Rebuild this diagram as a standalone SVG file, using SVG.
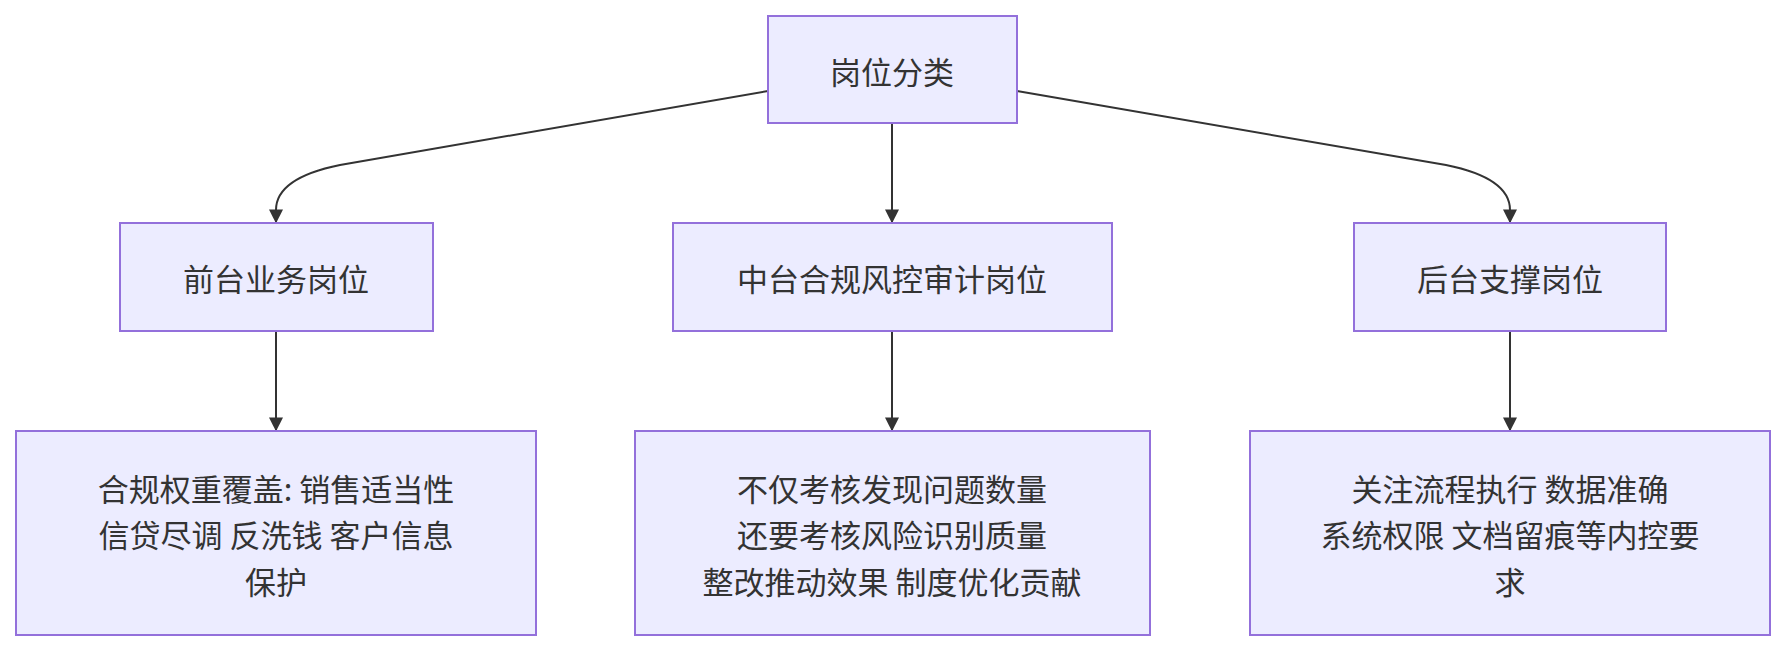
<svg xmlns="http://www.w3.org/2000/svg" width="1785" height="652" viewBox="0 0 1785 652">
<style>
.n{fill:#ECECFF;stroke:#9370DB;stroke-width:2}
.t{font-family:"Noto Sans CJK SC","Liberation Sans",sans-serif;font-size:31px;fill:#333;text-anchor:middle;dominant-baseline:central}
.e{fill:none;stroke:#333;stroke-width:2}
</style>
<defs><marker id="a" viewBox="0 0 10 10" refX="9" refY="5" markerWidth="7" markerHeight="7" orient="auto"><path d="M0,0L10,5L0,10z" fill="#333"/></marker></defs>
<rect width="1785" height="652" fill="#fff"/>
<g id="edges">
<path class="e" marker-end="url(#a)" d="M768,91 L340,165 Q276,178 276,210 L276,222"/>
<path class="e" marker-end="url(#a)" d="M892,123 L892,222"/>
<path class="e" marker-end="url(#a)" d="M1017,91 L1446,165 Q1510,178 1510,210 L1510,222"/>
<path class="e" marker-end="url(#a)" d="M276,331 L276,430"/>
<path class="e" marker-end="url(#a)" d="M892,331 L892,430"/>
<path class="e" marker-end="url(#a)" d="M1510,331 L1510,430"/>
</g>
<g id="root"><rect class="n" x="768" y="16" width="249" height="107"/><text class="t" x="892" y="70">岗位分类</text></g>
<g id="front"><rect class="n" x="120" y="223" width="313" height="108"/><text class="t" x="276" y="277">前台业务岗位</text></g>
<g id="mid"><rect class="n" x="673" y="223" width="439" height="108"/><text class="t" x="892" y="277">中台合规风控审计岗位</text></g>
<g id="back"><rect class="n" x="1354" y="223" width="312" height="108"/><text class="t" x="1510" y="277">后台支撑岗位</text></g>
<g id="frontd"><rect class="n" x="16" y="431" width="520" height="204"/><text class="t" x="276"><tspan x="276" y="487">合规权重覆盖: 销售适当性</tspan><tspan x="276" y="533">信贷尽调 反洗钱 客户信息</tspan><tspan x="276" y="580">保护</tspan></text></g>
<g id="midd"><rect class="n" x="635" y="431" width="515" height="204"/><text class="t" x="892"><tspan x="892" y="487">不仅考核发现问题数量</tspan><tspan x="892" y="533">还要考核风险识别质量</tspan><tspan x="892" y="580">整改推动效果 制度优化贡献</tspan></text></g>
<g id="backd"><rect class="n" x="1250" y="431" width="520" height="204"/><text class="t" x="1510"><tspan x="1510" y="487">关注流程执行 数据准确</tspan><tspan x="1510" y="533">系统权限 文档留痕等内控要</tspan><tspan x="1510" y="580">求</tspan></text></g>
</svg>
